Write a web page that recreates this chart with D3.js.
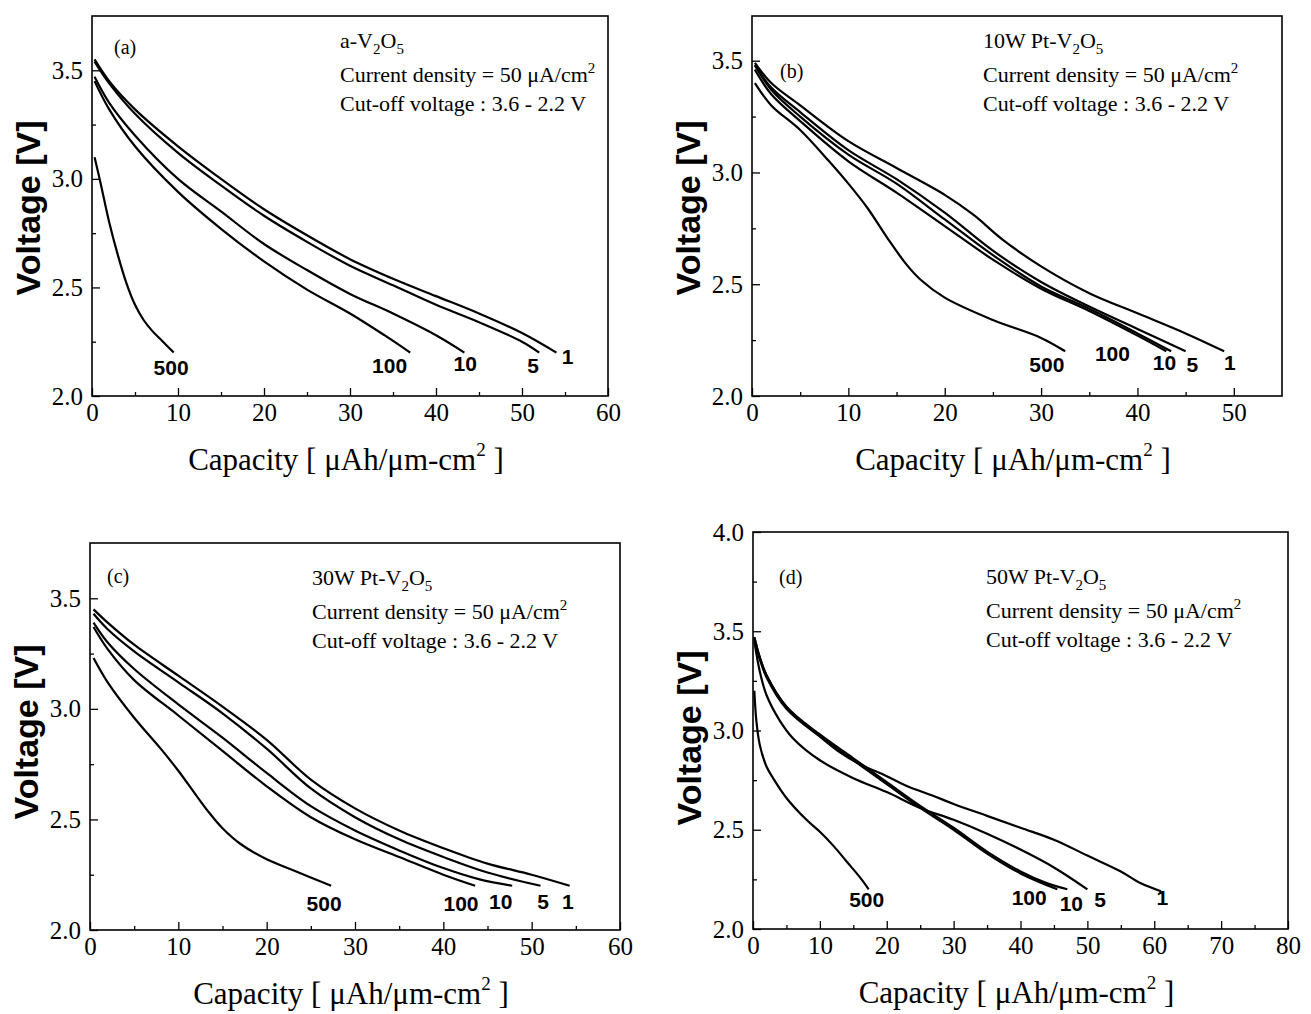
<!DOCTYPE html>
<html>
<head>
<meta charset="utf-8">
<script src="https://cdn.jsdelivr.net/npm/d3@7"></script>
<style>
  body { margin: 0; background: #fff; }
  svg { display: block; }
</style>
</head>
<body>
<div id="container"></div>
<script>
/* DATA (capacity, voltage) */
const rates = ["1", "5", "10", "100", "500"];

// (a) a-V2O5
const a1   = [[0.3,3.55],[2,3.45],[5,3.32],[10,3.15],[15,3.0],[20,2.86],[25,2.74],[30,2.63],[35,2.54],[40,2.46],[45,2.38],[50,2.29],[54,2.2]];
const a5   = [[0.3,3.54],[2,3.44],[5,3.30],[10,3.12],[15,2.97],[20,2.83],[25,2.71],[30,2.60],[35,2.51],[40,2.42],[45,2.34],[50,2.25],[52,2.2]];
const a10  = [[0.3,3.47],[2,3.35],[5,3.2],[10,3.0],[15,2.85],[20,2.70],[25,2.58],[30,2.47],[35,2.38],[40,2.28],[43.3,2.2]];
const a100 = [[0.3,3.45],[2,3.32],[5,3.15],[10,2.94],[15,2.77],[20,2.62],[25,2.49],[30,2.38],[34,2.28],[37,2.2]];
const a500 = [[0.3,3.1],[1,2.98],[2,2.8],[3,2.65],[4,2.52],[5,2.42],[6,2.35],[7,2.30],[8,2.26],[9.5,2.2]];

// (b) 10W Pt-V2O5
const b1   = [[0.3,3.49],[2,3.40],[5,3.30],[10,3.14],[15,3.02],[20,2.90],[23,2.81],[26,2.70],[30,2.58],[35,2.46],[40,2.37],[45,2.28],[49,2.2]];
const b5   = [[0.3,3.48],[2,3.38],[5,3.27],[10,3.10],[15,2.97],[20,2.82],[25,2.65],[30,2.51],[35,2.40],[40,2.30],[45,2.2]];
const b10  = [[0.3,3.48],[2,3.37],[5,3.25],[10,3.08],[15,2.95],[20,2.79],[25,2.63],[30,2.49],[35,2.39],[40,2.28],[43.5,2.2]];
const b100 = [[0.3,3.46],[2,3.35],[5,3.23],[10,3.05],[15,2.91],[20,2.76],[25,2.61],[30,2.48],[35,2.38],[40,2.27],[43,2.2]];
const b500 = [[0.3,3.40],[2,3.30],[5,3.19],[8,3.05],[10,2.95],[12,2.84],[14,2.71],[16,2.59],[17.5,2.52],[20,2.44],[25,2.34],[30,2.26],[32.5,2.2]];

// (c) 30W Pt-V2O5
const c1   = [[0.4,3.45],[2,3.39],[5,3.29],[10,3.15],[15,3.01],[20,2.86],[25,2.68],[30,2.55],[35,2.45],[40,2.37],[45,2.30],[50,2.25],[54.3,2.2]];
const c5   = [[0.4,3.43],[2,3.36],[5,3.26],[10,3.12],[15,2.98],[20,2.82],[25,2.64],[30,2.51],[35,2.41],[40,2.33],[45,2.26],[51,2.2]];
const c10  = [[0.4,3.39],[2,3.30],[5,3.18],[10,3.02],[15,2.87],[20,2.71],[25,2.56],[30,2.45],[35,2.36],[40,2.28],[44,2.23],[47.8,2.2]];
const c100 = [[0.4,3.37],[2,3.27],[5,3.13],[10,2.97],[15,2.81],[20,2.65],[25,2.51],[30,2.41],[35,2.33],[40,2.25],[43.6,2.2]];
const c500 = [[0.4,3.23],[2,3.12],[5,2.96],[8,2.82],[10,2.72],[12,2.61],[13.5,2.53],[15,2.46],[17,2.39],[20,2.32],[23,2.27],[27.3,2.2]];

// (d) 50W Pt-V2O5
const d1   = [[0.2,3.47],[1,3.37],[2,3.28],[5,3.12],[10,2.97],[13,2.89],[16,2.83],[20,2.77],[23,2.72],[27,2.67],[30,2.63],[35,2.57],[40,2.51],[45,2.45],[50,2.37],[55,2.29],[58,2.23],[61,2.19]];
const d5   = [[0.2,3.45],[1,3.30],[2,3.18],[4,3.05],[6,2.96],[10,2.85],[15,2.76],[20,2.69],[25,2.61],[30,2.55],[35,2.48],[40,2.40],[45,2.31],[50,2.2]];
const d10  = [[0.2,3.47],[1,3.37],[2,3.28],[5,3.12],[10,2.98],[15,2.86],[20,2.74],[25,2.62],[30,2.51],[35,2.39],[40,2.29],[44,2.23],[47,2.2]];
const d100 = [[0.2,3.46],[1,3.36],[2,3.27],[5,3.11],[10,2.97],[15,2.85],[20,2.73],[25,2.61],[30,2.50],[35,2.38],[40,2.28],[45.5,2.2]];
const d500 = [[0.2,3.2],[0.5,3.05],[1,2.93],[2,2.82],[3,2.76],[5,2.66],[8,2.55],[10,2.49],[12,2.42],[14,2.34],[16,2.26],[17.3,2.2]];

// tick labels
const xTicks60 = [0, 10, 20, 30, 40, 50, 60];
const xTicks50 = [0, 10, 20, 30, 40, 50];
const xTicks80 = [0, 10, 20, 30, 40, 50, 60, 70, 80];
const yTicks35 = [2.0, 2.5, 3.0, 3.5];
const yTicks40 = [2.0, 2.5, 3.0, 3.5, 4.0];

/* LAYOUT */
const W = 1311, H = 1014;
const panels = [
  { tag: "(a)", name: "a-V", curves: [a1, a5, a10, a100, a500], xMax: 60, yMax: 3.75,
    xTicks: xTicks60, yTicks: yTicks35, box: {l: 92, t: 16, r: 608, b: 396},
    tagAt: [22, 38], noteAt: [248, 32], yTitle: 208,
    labelAt: [[55.3,2.18],[51.3,2.14],[43.4,2.15],[34.6,2.14],[9.2,2.13]] },
  { tag: "(b)", name: "10W Pt-V", curves: [b1, b5, b10, b100, b500], xMax: 55, yMax: 3.7,
    xTicks: xTicks50, yTicks: yTicks35, box: {l: 752, t: 16, r: 1282, b: 396},
    tagAt: [28, 62], noteAt: [231, 32], yTitle: 208,
    labelAt: [[49.6,2.15],[45.7,2.14],[42.8,2.15],[37.4,2.19],[30.6,2.14]] },
  { tag: "(c)", name: "30W Pt-V", curves: [c1, c5, c10, c100, c500], xMax: 60, yMax: 3.75,
    xTicks: xTicks60, yTicks: yTicks35, box: {l: 90, t: 543, r: 620, b: 930},
    tagAt: [17, 40], noteAt: [222, 42], yTitle: 732,
    labelAt: [[54.1,2.13],[51.3,2.13],[46.5,2.13],[42,2.12],[26.5,2.12]] },
  { tag: "(d)", name: "50W Pt-V", curves: [d1, d5, d10, d100, d500], xMax: 80, yMax: 4.0,
    xTicks: xTicks80, yTicks: yTicks40, box: {l: 753, t: 532, r: 1288, b: 929},
    tagAt: [26, 52], noteAt: [233, 52], yTitle: 738,
    labelAt: [[61.2,2.16],[51.9,2.15],[47.6,2.13],[41.3,2.16],[17,2.15]] }
];

const serif = "Liberation Serif, Times New Roman, serif";
const sans = "Liberation Sans, Arial, sans-serif";

const svg = d3.select("#container")
  .append("svg")
  .attr("width", W)
  .attr("height", H)
  .style("background", "#fff");

panels.forEach(p => {
  const b = p.box;
  const x = d3.scaleLinear().domain([0, p.xMax]).range([b.l, b.r]);
  const y = d3.scaleLinear().domain([2, p.yMax]).range([b.b, b.t]);

  const xMinor = d3.range(5, p.xMax, 10);
  const yMinor = p.yTicks.slice(0, -1).map(d => d + 0.25).filter(d => d < p.yMax);

  // major + minor ticks (inward)
  const gx = svg.append("g")
    .attr("transform", `translate(0,${b.b})`)
    .call(d3.axisBottom(x).tickValues(p.xTicks).tickSize(-8).tickPadding(7).tickFormat(d3.format("d")));
  const gxm = svg.append("g")
    .attr("transform", `translate(0,${b.b})`)
    .call(d3.axisBottom(x).tickValues(xMinor).tickSize(-4).tickFormat(""));
  const gy = svg.append("g")
    .attr("transform", `translate(${b.l},0)`)
    .call(d3.axisLeft(y).tickValues(p.yTicks).tickSize(-8).tickPadding(9).tickFormat(d3.format(".1f")));
  const gym = svg.append("g")
    .attr("transform", `translate(${b.l},0)`)
    .call(d3.axisLeft(y).tickValues(yMinor).tickSize(-4).tickFormat(""));

  [gx, gxm, gy, gym].forEach(g => {
    g.attr("font-family", serif).attr("font-size", 25);
    g.select(".domain").remove();
    g.selectAll("line").attr("stroke", "#000").attr("stroke-width", 1.3);
    g.selectAll("text").attr("fill", "#000");
  });

  // frame
  svg.append("rect")
    .attr("x", b.l).attr("y", b.t)
    .attr("width", b.r - b.l).attr("height", b.b - b.t)
    .attr("fill", "none").attr("stroke", "#000").attr("stroke-width", 1.6);

  // curves
  const line = d3.line()
    .x(d => x(d[0]))
    .y(d => y(d[1]))
    .curve(d3.curveCatmullRom.alpha(0.5));

  svg.append("g").selectAll("path")
    .data(p.curves)
    .join("path")
    .attr("d", line)
    .attr("fill", "none")
    .attr("stroke", "#000")
    .attr("stroke-width", 2.2);

  // curve labels (C-rate)
  svg.append("g").selectAll("text")
    .data(rates)
    .join("text")
    .attr("x", (d, i) => x(p.labelAt[i][0]))
    .attr("y", (d, i) => y(p.labelAt[i][1]))
    .attr("dy", "0.36em")
    .attr("text-anchor", "middle")
    .attr("font-family", sans)
    .attr("font-weight", "bold")
    .attr("font-size", 21)
    .text(d => d);

  // panel tag
  svg.append("text")
    .attr("x", b.l + p.tagAt[0])
    .attr("y", b.t + p.tagAt[1])
    .attr("font-family", serif)
    .attr("font-size", 20)
    .text(p.tag);

  // annotation block
  const nx = b.l + p.noteAt[0], ny = b.t + p.noteAt[1];
  const t1 = svg.append("text").attr("x", nx).attr("y", ny)
    .attr("font-family", serif).attr("font-size", 22);
  t1.append("tspan").text(p.name);
  t1.append("tspan").attr("dy", 6).attr("font-size", 15).text("2");
  t1.append("tspan").attr("dy", -6).text("O");
  t1.append("tspan").attr("dy", 6).attr("font-size", 15).text("5");

  const t2 = svg.append("text").attr("x", nx).attr("y", ny + 34)
    .attr("font-family", serif).attr("font-size", 22);
  t2.append("tspan").text("Current density = 50 \u03bcA/cm");
  t2.append("tspan").attr("dy", -9).attr("font-size", 15).text("2");

  svg.append("text").attr("x", nx).attr("y", ny + 63)
    .attr("font-family", serif).attr("font-size", 22)
    .text("Cut-off voltage : 3.6 - 2.2 V");

  // axis titles
  svg.append("text")
    .attr("transform", `translate(${b.l - 52},${p.yTitle}) rotate(-90)`)
    .attr("text-anchor", "middle")
    .attr("font-family", sans)
    .attr("font-weight", "bold")
    .attr("font-size", 34)
    .text("Voltage [V]");

  const xt = svg.append("text")
    .attr("x", (b.l + b.r) / 2 - 4)
    .attr("y", b.b + 74)
    .attr("text-anchor", "middle")
    .attr("font-family", serif)
    .attr("font-size", 31);
  xt.append("tspan").text("Capacity [ \u03bcAh/\u03bcm-cm");
  xt.append("tspan").attr("dy", -14).attr("font-size", 19).text("2");
  xt.append("tspan").attr("dy", 14).text(" ]");
});
</script>
</body>
</html>
